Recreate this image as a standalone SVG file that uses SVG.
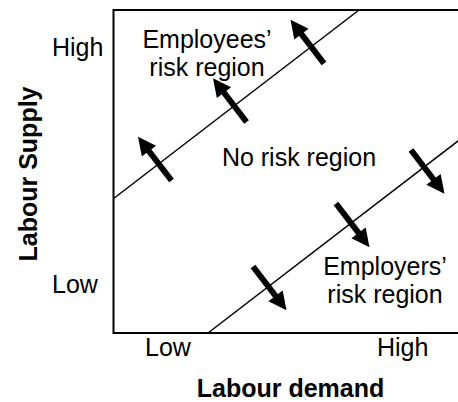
<svg xmlns="http://www.w3.org/2000/svg" xmlns:xlink="http://www.w3.org/1999/xlink" width="458" height="402" viewBox="0 0 458 402">
<style>
.t{font-family:"Liberation Sans",Arial,sans-serif;font-size:25px;fill:#000}
.b{font-weight:bold}
.ax{fill:none;stroke:#000;stroke-width:2}
.ln{fill:none;stroke:#000;stroke-width:1.5}
</style>
<defs>
<g id="arr">
<rect x="0" y="-3" width="40" height="6" fill="#000"/>
<polygon points="37,-9 55,0 37,9" fill="#000"/>
</g>
</defs>
<rect width="458" height="402" fill="#fff"/>
<g id="axes">
<path class="ax" d="M460,10 H113.5 V333 H460"/>
</g>
<g id="connectors">
<line class="ln" x1="113" y1="199" x2="359" y2="10"/>
<line class="ln" x1="208" y1="333" x2="460" y2="139.5"/>
<use xlink:href="#arr" transform="translate(171.5,180.5) rotate(-127.5)"/>
<use xlink:href="#arr" transform="translate(246.5,122) rotate(-127.5)"/>
<use xlink:href="#arr" transform="translate(324,63.5) rotate(-127.5)"/>
<use xlink:href="#arr" transform="translate(411,150) rotate(52.5)"/>
<use xlink:href="#arr" transform="translate(336,203.5) rotate(52.5)"/>
<use xlink:href="#arr" transform="translate(253,266.5) rotate(52.5)"/>
</g>
<g id="employees-region">
<text class="t" x="207" y="48" text-anchor="middle">Employees’</text>
<text class="t" x="207" y="76" text-anchor="middle">risk region</text>
</g>
<g id="no-risk-region">
<text class="t" x="299" y="166" text-anchor="middle">No risk region</text>
</g>
<g id="employers-region">
<text class="t" x="385" y="275" text-anchor="middle">Employers’</text>
<text class="t" x="385" y="303" text-anchor="middle">risk region</text>
</g>
<g id="y-axis-labels">
<text class="t" x="52" y="56">High</text>
<text class="t" x="52" y="293">Low</text>
<text class="t b" transform="translate(36.5,174) rotate(-90)" text-anchor="middle">Labour Supply</text>
</g>
<g id="x-axis-labels">
<text class="t" x="145" y="356">Low</text>
<text class="t" x="377" y="356">High</text>
<text class="t b" x="290.5" y="397" text-anchor="middle">Labour demand</text>
</g>
</svg>
